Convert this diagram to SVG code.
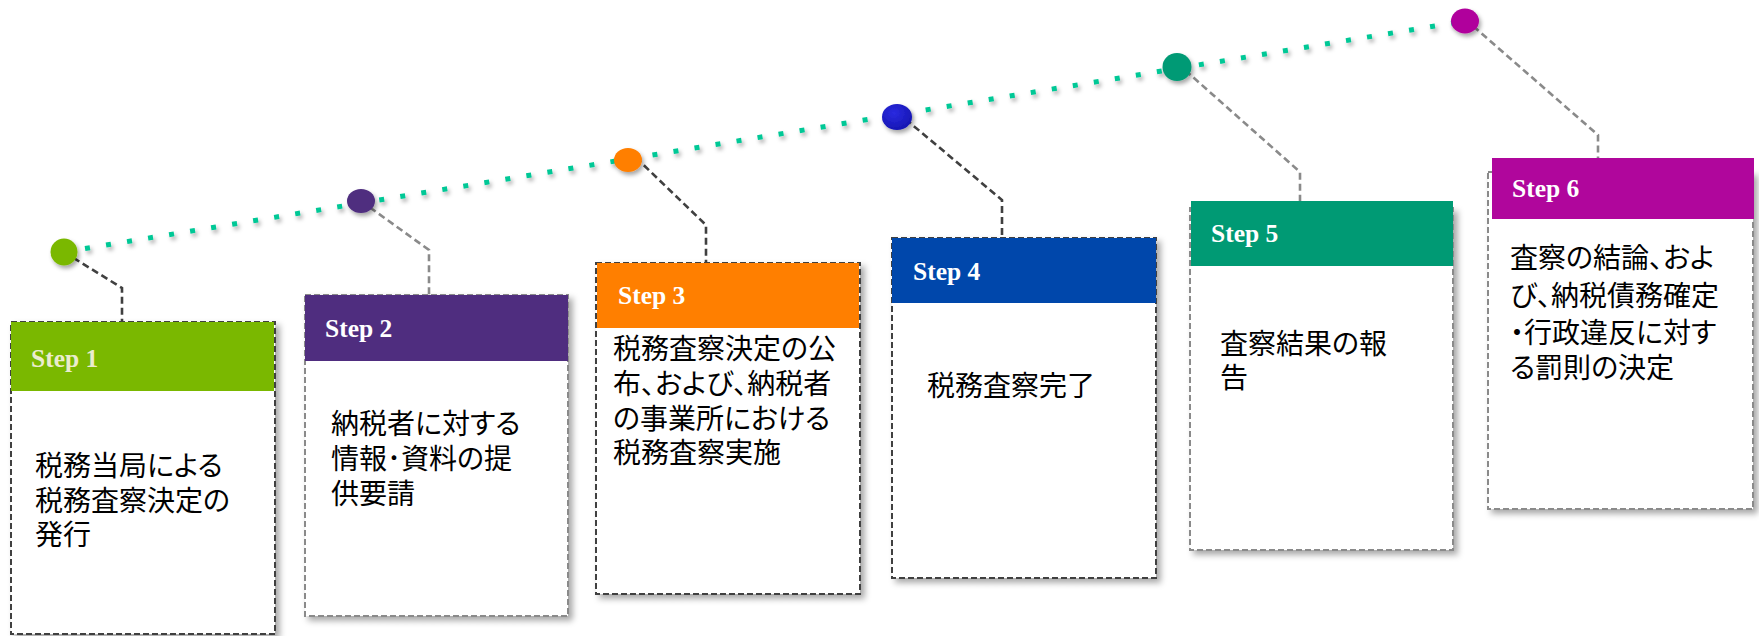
<svg xmlns="http://www.w3.org/2000/svg" width="1759" height="636" viewBox="0 0 1759 636">
<defs>
<filter id="sh" x="-10%" y="-10%" width="125%" height="125%">
<feDropShadow dx="4" dy="4" stdDeviation="3" flood-color="#000" flood-opacity="0.35"/>
</filter>
<filter id="dsh" x="-50%" y="-50%" width="200%" height="200%">
<feDropShadow dx="2" dy="3" stdDeviation="2" flood-color="#000" flood-opacity="0.35"/>
</filter>
<radialGradient id="g4" cx="0.4" cy="0.35" r="0.7">
<stop offset="0" stop-color="#2a2ae0"/>
<stop offset="1" stop-color="#1515b0"/>
</radialGradient>
</defs>
<style>
.box{fill:#fff;stroke-width:2;stroke-dasharray:6 3;}
.dk{stroke:#404040;}
.lt{stroke:#8a8a8a;}
.lead{fill:none;stroke-width:2.6;stroke-dasharray:7 4;}
.step{font-family:"Liberation Serif",serif;font-weight:bold;font-size:25.5px;fill:#fff;}
.body{font-family:"Noto Sans CJK JP",sans-serif;font-size:28px;fill:#000;font-feature-settings:"palt";}
</style>
<g id="connectors">
<line x1="64" y1="252" x2="1465" y2="21" stroke="#00c896" stroke-width="5" stroke-dasharray="5 16.3" filter="url(#dsh)"/>
<polyline class="lead dk" points="64,252 122,288 122,322"/>
<polyline class="lead lt" points="361,201 429,250 429,295"/>
<polyline class="lead dk" points="628,150 706,225 706,263"/>
<polyline class="lead dk" points="897,112 1002,200 1002,238"/>
<polyline class="lead lt" points="1177,63 1300,172 1300,201"/>
<polyline class="lead lt" points="1465,19 1598,135 1598,158"/>
</g>
<g id="step1">
<ellipse cx="64" cy="252" rx="13.5" ry="13.5" fill="#7ab800" filter="url(#dsh)"/>
<rect class="box dk" x="11" y="322" width="264" height="312" filter="url(#sh)"/>
<rect x="11" y="322" width="263" height="69" fill="#7ab800"/>
<text class="step" x="31" y="367" style="fill:#eaeccf">Step 1</text>
<text class="body"><tspan x="35" y="476">税務当局による</tspan><tspan x="35" y="511">税務査察決定の</tspan><tspan x="35" y="545">発行</tspan></text>
</g>
<g id="step2">
<ellipse cx="361" cy="201" rx="14" ry="12" fill="#4f2d7f" filter="url(#dsh)"/>
<rect class="box lt" x="305" y="295" width="263" height="321" filter="url(#sh)"/>
<rect x="305" y="295" width="263" height="66" fill="#4f2d7f"/>
<text class="step" x="325" y="337">Step 2</text>
<text class="body"><tspan x="331" y="434">納税者に対する</tspan><tspan x="331" y="469">情報･資料の提</tspan><tspan x="331" y="504">供要請</tspan></text>
</g>
<g id="step3">
<ellipse cx="628" cy="160" rx="14" ry="12" fill="#ff7f00" filter="url(#dsh)"/>
<rect class="box dk" x="596" y="263" width="264" height="331" filter="url(#sh)"/>
<rect x="597" y="263" width="262" height="65" fill="#ff7f00"/>
<text class="step" x="618" y="304">Step 3</text>
<text class="body"><tspan x="613" y="359">税務査察決定の公</tspan><tspan x="613" y="394">布、および、納税者</tspan><tspan x="613" y="429">の事業所における</tspan><tspan x="613" y="463">税務査察実施</tspan></text>
</g>
<g id="step4">
<ellipse cx="897" cy="117" rx="15" ry="13" fill="url(#g4)" filter="url(#dsh)"/>
<rect class="box dk" x="892" y="238" width="264" height="340" filter="url(#sh)"/>
<rect x="892" y="238" width="264" height="65" fill="#0047ab"/>
<text class="step" x="913" y="280">Step 4</text>
<text class="body"><tspan x="927" y="396">税務査察完了</tspan></text>
</g>
<g id="step5">
<ellipse cx="1177" cy="67" rx="14.5" ry="14" fill="#009a74" filter="url(#dsh)"/>
<rect class="box lt" x="1190" y="208" width="263" height="342" filter="url(#sh)"/>
<rect x="1191" y="201" width="262" height="65" fill="#009a74"/>
<text class="step" x="1211" y="242">Step 5</text>
<text class="body"><tspan x="1220" y="354">査察結果の報</tspan><tspan x="1220" y="388">告</tspan></text>
</g>
<g id="step6">
<ellipse cx="1465" cy="21" rx="14" ry="12.5" fill="#b0069c" filter="url(#dsh)"/>
<rect class="box lt" x="1488" y="172" width="265" height="337" filter="url(#sh)"/>
<rect x="1492" y="158" width="262" height="61" fill="#b0069c"/>
<text class="step" x="1512" y="197">Step 6</text>
<text class="body"><tspan x="1510" y="268">査察の結論、およ</tspan><tspan x="1510" y="306">び、納税債務確定</tspan><tspan x="1510" y="343">・行政違反に対す</tspan><tspan x="1510" y="378">る罰則の決定</tspan></text>
</g>
</svg>
